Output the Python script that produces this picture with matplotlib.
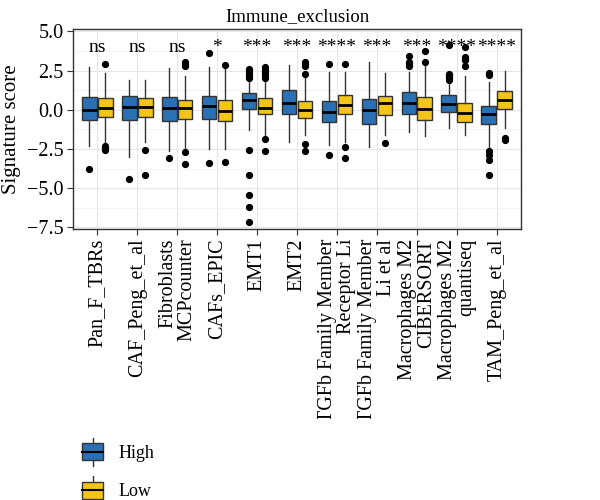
import matplotlib
matplotlib.use("Agg")
import matplotlib.pyplot as plt
from matplotlib.legend_handler import HandlerBase
from matplotlib.patches import Rectangle
from matplotlib.lines import Line2D
from matplotlib.transforms import Bbox, TransformedBbox

plt.rcParams['font.family'] = ['Liberation Serif', 'DejaVu Serif']

categories = ["Pan_F_TBRs", "CAF_Peng_et_al", "Fibroblasts\nMCPcounter", "CAFs_EPIC",
              "EMT1", "EMT2", "TGFb Family Member\nReceptor Li", "TGFb Family Member\nLi et al",
              "Macrophages M2\nCIBERSORT", "Macrophages M2\nquantiseq", "TAM_Peng_et_al"]
signif = ["ns", "ns", "ns", "*", "***", "***", "****", "***", "***", "****", "****"]

# box stats: (whislo, q1, med, q3, whishi)
high_stats = [
    (-2.30, -0.67, 0.00, 0.83, 2.74),
    (-3.00, -0.67, 0.17, 0.89, 1.93),
    (-2.63, -0.74, 0.09, 0.83, 2.65),
    (-2.48, -0.57, 0.24, 0.85, 2.74),
    (-1.28, 0.07, 0.63, 1.04, 1.87),
    (-2.07, -0.30, 0.43, 1.28, 2.83),
    (-2.26, -0.78, -0.13, 0.57, 2.41),
    (-2.37, -0.91, -0.04, 0.67, 3.02),
    (-1.43, -0.26, 0.41, 1.11, 2.41),
    (-1.17, -0.11, 0.37, 0.93, 1.76),
    (-2.48, -0.91, -0.30, 0.22, 1.80),
]
low_stats = [
    (-2.20, -0.43, 0.13, 0.72, 2.35),
    (-2.04, -0.48, 0.17, 0.78, 1.87),
    (-2.48, -0.57, 0.09, 0.61, 2.17),
    (-2.52, -0.70, -0.09, 0.65, 2.74),
    (-1.61, -0.30, 0.09, 0.72, 1.87),
    (-1.61, -0.50, -0.04, 0.57, 2.17),
    (-2.04, -0.30, 0.33, 0.93, 2.43),
    (-1.61, -0.33, 0.41, 0.89, 2.35),
    (-1.67, -0.67, 0.07, 0.80, 2.78),
    (-1.61, -0.78, -0.20, 0.41, 2.13),
    (-1.17, 0.02, 0.61, 1.17, 2.46),
]
high_outliers = [
    [-3.78],
    [-4.39],
    [-3.09],
    [3.65, -3.39],
    [2.0, 2.15, 2.3, 2.45, 2.6, -2.54, -4.15, -5.43, -6.22, -7.15],
    [],
    [2.89, -2.91],
    [],
    [3.43, 3.07, 2.91, 2.78],
    [1.87, 2.0, 2.1, 2.2, 2.3, 4.15],
    [2.35, 2.2, -2.61, -2.91, -3.22, -4.15],
]
low_outliers = [
    [2.89, -2.30, -2.45, -2.59],
    [-2.59, -4.15],
    [3.04, 2.91, 2.80, -2.70, -3.48],
    [2.83, -3.35],
    [2.0, 2.2, 2.35, 2.5, 2.62, 2.74, -1.89, -2.63],
    [3.02, 2.91, 2.78, 2.28, -2.15, -2.63],
    [2.91, -2.37, -3.07],
    [-2.09],
    [3.72, 3.02],
    [3.98, 3.39, 3.26, 3.15, 2.78],
    [-1.78, -1.93],
]
groups = ["High", "Low"]
colors = ["#2a70b5", "#f4c418"]

def mkstats(stats, outs):
    res = []
    for (lo, q1, med, q3, hi), fl in zip(stats, outs):
        res.append(dict(whislo=lo, q1=q1, med=med, q3=q3, whishi=hi, fliers=fl))
    return res

fig = plt.figure(figsize=(6, 5), dpi=100)
ax = fig.add_axes([0.122, 0.542, 0.746, 0.4])

n = len(categories)
pos = list(range(1, n + 1))
edge = "#333333"
for stats, outs, col, off in [(high_stats, high_outliers, colors[0], -0.2),
                               (low_stats, low_outliers, colors[1], 0.2)]:
    ax.bxp(mkstats(stats, outs), positions=[p + off for p in pos], widths=0.37,
           patch_artist=True, showcaps=False, manage_ticks=False,
           boxprops=dict(facecolor=col, edgecolor=edge, linewidth=1.0),
           medianprops=dict(color="black", linewidth=2.0),
           whiskerprops=dict(color=edge, linewidth=1.0),
           flierprops=dict(marker="o", markerfacecolor="black", markeredgecolor="black",
                           markersize=4.2, linestyle="none"))

for p, s in zip(pos, signif):
    ax.text(p, 4.0, s, ha="center", va="center", fontsize=14)

ax.set_xlim(0.4, n + 0.6)
ax.set_ylim(-7.6, 5.15)
ax.set_yticks([-7.5, -5.0, -2.5, 0.0, 2.5, 5.0])
ax.set_yticklabels(["\u22127.5", "\u22125.0", "\u22122.5", "0.0", "2.5", "5.0"], fontsize=14.5)
ax.set_yticks([-6.25, -3.75, -1.25, 1.25, 3.75], minor=True)
ax.tick_params(axis="y", which="minor", length=0)
ax.set_xticks(pos)
ax.set_xticklabels(categories, rotation=90, ha="center", va="top", fontsize=14.5,
                   multialignment="right", linespacing=1.0)
ax.tick_params(axis="both", which="major", length=4, color="#333333", pad=3)
clipbox = TransformedBbox(Bbox([[0.0, 0.162], [1.0, 1.0]]), fig.transFigure)
for lab in ax.get_xticklabels():
    lab.set_clip_box(clipbox)
    lab.set_clip_on(True)
ax.grid(True, which="major", color="#e6e6e6", linewidth=0.8)
ax.grid(True, which="minor", axis="y", color="#f2f2f2", linewidth=0.6)
ax.set_axisbelow(True)
for sp in ax.spines.values():
    sp.set_color("#333333")
    sp.set_linewidth(1.0)
ax.set_ylabel("Signature score", fontsize=15, labelpad=4)
ax.set_title("Immune_exclusion", fontsize=13.5, pad=6)


class BoxHandler(HandlerBase):
    def __init__(self, color):
        super().__init__()
        self.color = color

    def create_artists(self, legend, orig_handle, xdescent, ydescent, width, height, fontsize, trans):
        w = width * 0.9
        x0 = (width - w) / 2 - xdescent
        h = height * 1.0
        y0 = -ydescent
        r = Rectangle((x0, y0), w, h, facecolor=self.color, edgecolor=edge, lw=1.0, transform=trans)
        m = Line2D([x0, x0 + w], [y0 + h / 2, y0 + h / 2], color="black", lw=1.5, transform=trans)
        xc = x0 + w / 2
        wt = Line2D([xc, xc], [y0 + h, y0 + h + height * 0.3], color=edge, lw=1.0, transform=trans)
        wb = Line2D([xc, xc], [y0, y0 - height * 0.3], color=edge, lw=1.0, transform=trans)
        return [wt, wb, r, m]


h1 = Rectangle((0, 0), 1, 1)
h2 = Rectangle((0, 0), 1, 1)
fig.legend([h1, h2], groups, loc="upper left", bbox_to_anchor=(0.135, 0.114),
           bbox_transform=fig.transFigure, frameon=False, fontsize=13,
           handler_map={h1: BoxHandler(colors[0]), h2: BoxHandler(colors[1])},
           handlelength=1.3, handleheight=1.1, labelspacing=1.1, handletextpad=0.8,
           borderaxespad=0, borderpad=0)

fig.savefig("out.png", dpi=100)
